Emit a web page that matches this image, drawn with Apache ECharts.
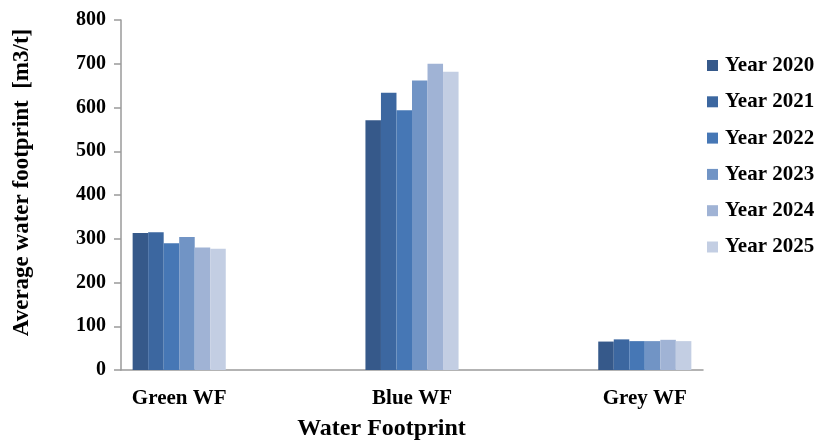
<!DOCTYPE html>
<html>
<head>
<meta charset="utf-8">
<script src="https://cdn.jsdelivr.net/npm/echarts@6/dist/echarts.min.js"></script>
<style>
  html, body { margin: 0; padding: 0; background: #ffffff; }
  #chart { width: 817px; height: 446px; }
</style>
</head>
<body>
<div id="chart"></div>
<script>
// Water footprint components, with a blank slot between groups
const categories = ['Green WF', '', 'Blue WF', '', 'Grey WF'];
const years = ['Year 2020', 'Year 2021', 'Year 2022', 'Year 2023', 'Year 2024', 'Year 2025'];

// Average water footprint [m3/t] per component, one array per year
const year2020 = [313, null, 571, null, 65];
const year2021 = [315, null, 634, null, 70];
const year2022 = [290, null, 594, null, 66];
const year2023 = [304, null, 662, null, 66];
const year2024 = [280, null, 700, null, 69];
const year2025 = [277, null, 682, null, 66];

const yTicks = [0, 100, 200, 300, 400, 500, 600, 700, 800];

const seriesValues = [year2020, year2021, year2022, year2023, year2024, year2025];
const colors = ['#36598A', '#3C67A0', '#4677B5', '#7194C5', '#A0B3D5', '#C3CEE3'];

const serif = 'Liberation Serif, Times New Roman, serif';

const chart = echarts.init(document.getElementById('chart'), null, { renderer: 'canvas' });

chart.setOption({
  animation: false,
  backgroundColor: '#ffffff',
  color: colors,
  grid: { left: 121, right: 114, top: 20, bottom: 72, containLabel: false },
  legend: {
    orient: 'vertical',
    left: 707,
    top: 55,
    padding: 0,
    itemWidth: 11,
    itemHeight: 11,
    itemGap: 15.3,
    icon: 'rect',
    data: years,
    textStyle: {
      fontFamily: serif,
      fontWeight: 'bold',
      fontSize: 21,
      lineHeight: 21,
      color: '#000',
      padding: [0, 0, 0, 2]
    }
  },
  xAxis: {
    type: 'category',
    data: categories,
    name: 'Water Footprint',
    nameLocation: 'middle',
    nameGap: 47,
    nameTextStyle: {
      fontFamily: serif,
      fontWeight: 'bold',
      fontSize: 24,
      color: '#000',
      padding: [0, 61, 0, 0]
    },
    axisLine: { show: true, lineStyle: { color: '#9a9a9a', width: 1.5 } },
    axisTick: { show: false },
    axisLabel: {
      interval: 0,
      margin: 18,
      fontFamily: serif,
      fontWeight: 'bold',
      fontSize: 21,
      color: '#000'
    },
    splitLine: { show: false }
  },
  yAxis: {
    type: 'value',
    min: yTicks[0],
    max: yTicks[yTicks.length - 1],
    interval: yTicks[1] - yTicks[0],
    name: 'Average water footprint  [m3/t]',
    nameLocation: 'middle',
    nameGap: 87,
    nameTextStyle: {
      fontFamily: serif,
      fontWeight: 'bold',
      fontSize: 23,
      color: '#000',
      padding: [0, 0, 0, 25]
    },
    axisLine: { show: true, lineStyle: { color: '#9a9a9a', width: 1.5 } },
    axisTick: { show: true, inside: false, length: 7, lineStyle: { color: '#9a9a9a', width: 1.5 } },
    axisLabel: {
      margin: 15,
      fontFamily: serif,
      fontWeight: 'bold',
      fontSize: 20,
      color: '#000'
    },
    splitLine: { show: false }
  },
  series: years.map((name, i) => ({
    name: name,
    type: 'bar',
    data: seriesValues[i],
    barGap: '0%',
    barCategoryGap: '20%',
    itemStyle: { color: colors[i] }
  }))
});
</script>
</body>
</html>
